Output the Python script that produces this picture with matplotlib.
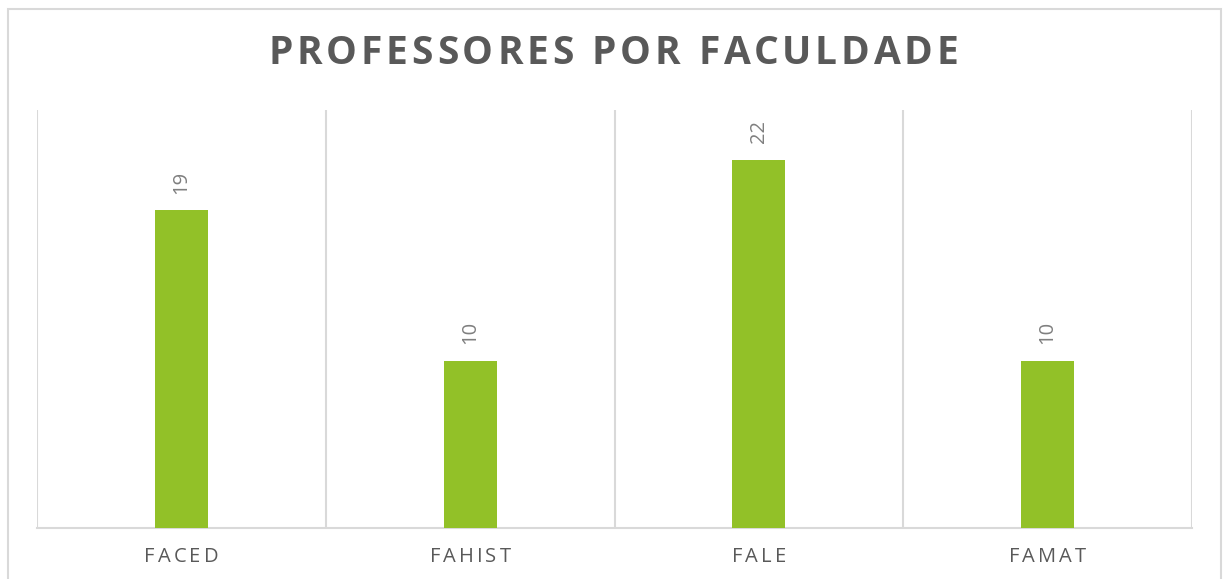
import matplotlib.pyplot as plt
from matplotlib.patches import Rectangle

# Dados
faculdades = ['FACED', 'FAHIST', 'FALE', 'FAMAT']
professores = [19, 10, 22, 10]
titulo = 'PROFESSORES POR FACULDADE'

verde = '#92C128'
cinza_texto = '#595959'
cinza_grade = '#D9D9D9'

W, H = 1223, 579

fig = plt.figure(figsize=(W / 100, H / 100), dpi=100)
rend = fig.canvas.get_renderer()

def largura(txt, size, weight):
    t = fig.text(0, 0, txt.replace(' ', '\u00a0'), fontsize=size, family='Open Sans', fontweight=weight)
    w = t.get_window_extent(rend).width
    t.remove()
    return w

def texto_espacado(txt, cx, cy, size, track=None, alvo=None, weight='normal', **kw):
    """Escreve texto com espaçamento entre letras, centrado em (cx, cy) em px"""
    natural = largura(txt, size, weight)
    if alvo is not None:
        track = (alvo - natural) / (len(txt) - 1)
    total = natural + track * (len(txt) - 1)
    x0 = cx - total / 2
    for i, c in enumerate(txt):
        if c == ' ':
            continue
        off = largura(txt[:i] + 'I', size, weight) - largura('I', size, weight) if i else 0
        fig.text((x0 + off + track * i) / W, 1 - cy / H, c, ha='left', va='center',
                 fontsize=size, family='Open Sans', fontweight=weight, **kw)

ax = fig.add_axes([37 / W, 51 / H, (1192 - 37) / W, (528 - 110) / H])

x = list(range(len(faculdades)))
ax.bar(x, professores, width=0.183, color=verde, zorder=3)

for xi, v in zip(x, professores):
    ax.annotate(str(v), (xi, v), xytext=(0, 12), textcoords='offset points',
                rotation=90, ha='center', va='bottom', fontsize=14.5,
                color='#7F7F7F', family='Open Sans')

ax.set_xlim(-0.5, len(faculdades) - 0.5)
ax.set_ylim(0, 25)
for b in range(len(faculdades) + 1):
    ax.axvline(b - 0.5, color=cinza_grade, lw=1.5, zorder=1)

ax.set_xticks(x)
ax.set_xticklabels([])
ax.tick_params(axis='x', length=0)
ax.set_yticks([])
for s in ['top', 'left', 'right']:
    ax.spines[s].set_visible(False)
ax.spines['bottom'].set_color(cinza_grade)
ax.spines['bottom'].set_linewidth(1.5)

# rótulos do eixo x com espaçamento
xa, xb = 37, 1192
passo = (xb - xa) / len(faculdades)
for i, f in enumerate(faculdades):
    texto_espacado(f, xa + passo * (i + 0.5), 557, 14.5, track=3, color=cinza_texto)

texto_espacado(titulo, 613, 53, 28, alvo=690, weight='bold', color=cinza_texto)

# Moldura externa
fig.patches.append(Rectangle((8 / W, -0.01), (1221 - 8) / W, 1 - 9 / H + 0.01,
                             transform=fig.transFigure, fill=False,
                             edgecolor=cinza_grade, lw=1.5))

fig.savefig('out.png', dpi=100)
